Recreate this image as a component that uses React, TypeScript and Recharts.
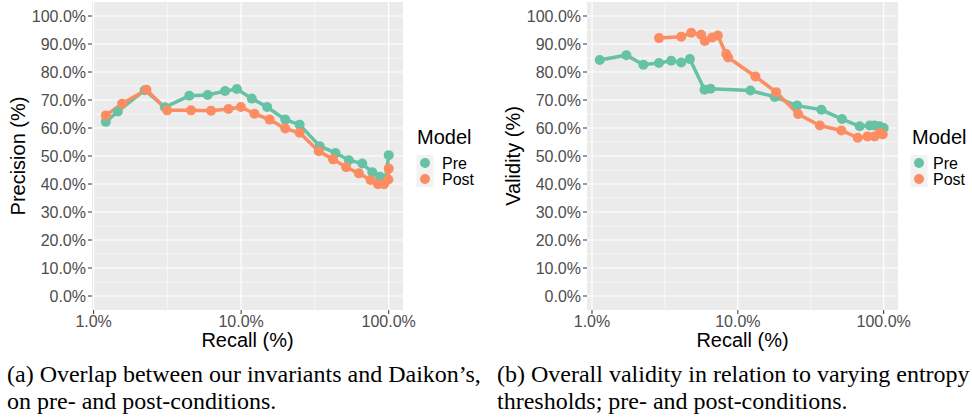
import React from "react";
import { CartesianGrid, Line, LineChart, XAxis, YAxis } from "recharts";

const TEAL = "#66C2A5";
const ORANGE = "#FC8D62";
const SANS = "'Liberation Sans', Arial, sans-serif";
const SERIF = "'Liberation Serif', 'Times New Roman', serif";

// (a) precision vs recall
const preRecallA = [1.21, 1.46, 2.22, 3.04, 4.45, 5.93, 7.78, 9.35, 11.8, 15.0, 19.9, 24.9, 34.1, 43.6, 53.7, 66.2, 77.4, 87.3, 95.0, 100];
const prePrecisionA = [62.2, 65.9, 73.5, 67.4, 71.5, 71.8, 73.2, 73.9, 70.5, 67.5, 63.0, 61.2, 53.5, 51.1, 48.5, 47.3, 44.2, 42.6, 41.5, 50.3];
const postRecallA = [1.21, 1.56, 2.28, 3.15, 4.57, 6.25, 8.2, 9.95, 12.3, 15.6, 19.9, 24.9, 33.6, 42.0, 51.5, 62.8, 75.4, 84.6, 93.0, 99.5, 100];
const postPrecisionA = [64.5, 68.7, 73.7, 66.3, 66.3, 66.2, 66.8, 67.5, 65.1, 63.0, 59.8, 58.3, 51.7, 48.8, 46.0, 43.8, 41.4, 39.9, 39.9, 41.6, 45.5];

// (b) validity vs recall
const preRecallB = [1.13, 1.72, 2.25, 2.88, 3.49, 4.09, 4.69, 5.91, 6.5, 12.2, 17.9, 25.5, 37.4, 51.8, 68.5, 80.2, 86.7, 94.0, 100];
const preValidityB = [84.3, 86.0, 82.6, 83.2, 84.0, 83.4, 84.6, 73.7, 74.0, 73.4, 71.1, 68.0, 66.5, 63.2, 60.6, 60.9, 60.9, 60.6, 60.0];
const postRecallB = [2.88, 4.09, 4.79, 5.6, 5.94, 6.67, 7.29, 8.32, 8.59, 13.2, 18.3, 25.9, 36.5, 51.3, 66.4, 77.6, 86.7, 94.0, 98.5];
const postValidityB = [92.1, 92.6, 94.0, 93.3, 91.1, 92.3, 93.0, 86.4, 85.2, 78.4, 72.8, 65.0, 60.9, 59.1, 56.5, 57.0, 57.0, 58.3, 57.7];

const xTicks = [1, 10, 100];
const xMinor = [3.162, 31.62];
const yTicks = [0, 10, 20, 30, 40, 50, 60, 70, 80, 90, 100];
const yMinor = [5, 15, 25, 35, 45, 55, 65, 75, 85, 95];
const seriesNames = ["Pre", "Post"];

const pairs = (xs: number[], ys: number[]) => xs.map((x, i) => ({ x, y: ys[i] }));
const pct = (v: number) => `${v.toFixed(1)}%`;

function Panel({
  left,
  pre,
  post,
  xDomain,
  yTitle,
  legendX,
  legendKeyX,
  legendTextX,
}: {
  left: number;
  pre: { x: number; y: number }[];
  post: { x: number; y: number }[];
  xDomain: [number, number];
  yTitle: string;
  legendX: number;
  legendKeyX: number;
  legendTextX: number;
}) {
  const tick = { fontSize: 16, fill: "#4D4D4D", fontFamily: SANS };
  return (
    <>
      <div style={{ position: "absolute", left, top: 0 }}>
        <LineChart width={425} height={350} margin={{ top: 2, right: 22, bottom: 0, left: 0 }}>
          <CartesianGrid
            fill="#EBEBEB"
            stroke="#FFFFFF"
            strokeWidth={0.6}
            horizontalValues={yMinor}
            verticalValues={xMinor}
          />
          <CartesianGrid stroke="#FFFFFF" strokeWidth={1.2} horizontalValues={yTicks} verticalValues={xTicks} />
          <XAxis
            dataKey="x"
            type="number"
            scale="log"
            domain={xDomain}
            allowDataOverflow
            ticks={xTicks}
            tickFormatter={pct}
            tick={tick}
            tickSize={4}
            tickLine={{ stroke: "#333333" }}
            axisLine={false}
            height={40}
          />
          <YAxis
            type="number"
            domain={[-5, 105]}
            allowDataOverflow
            ticks={yTicks}
            tickFormatter={pct}
            tick={tick}
            tickSize={4}
            tickLine={{ stroke: "#333333" }}
            axisLine={false}
            width={92}
          />
          <Line
            data={pre}
            dataKey="y"
            type="linear"
            stroke={TEAL}
            strokeWidth={3.5}
            dot={{ r: 5, fill: TEAL, stroke: TEAL, strokeWidth: 0 }}
            isAnimationActive={false}
          />
          <Line
            data={post}
            dataKey="y"
            type="linear"
            stroke={ORANGE}
            strokeWidth={3.5}
            dot={{ r: 5, fill: ORANGE, stroke: ORANGE, strokeWidth: 0 }}
            isAnimationActive={false}
          />
        </LineChart>
      </div>
      <div
        style={{
          position: "absolute",
          left: left + 92,
          width: 311,
          top: 330,
          textAlign: "center",
          fontFamily: SANS,
          fontSize: 20,
          lineHeight: "20px",
          color: "#000",
        }}
      >
        Recall (%)
      </div>
      <div
        style={{
          position: "absolute",
          left: left + 18,
          top: 156,
          transform: "translate(-50%, -50%) rotate(-90deg)",
          whiteSpace: "nowrap",
          fontFamily: SANS,
          fontSize: 20,
          lineHeight: "20px",
          color: "#000",
        }}
      >
        {yTitle}
      </div>
      <svg style={{ position: "absolute", left: 0, top: 0 }} width={972} height={417}>
        <text x={legendX} y={143.5} fontFamily={SANS} fontSize={20} fill="#000">
          Model
        </text>
        {seriesNames.map((name, i) => (
          <g key={name}>
            <rect x={legendKeyX - 8.5} y={155 + i * 16} width={17} height={16} fill="#F2F2F2" />
            <circle cx={legendKeyX} cy={163 + i * 16} r={5} fill={i === 0 ? TEAL : ORANGE} />
            <text x={legendTextX} y={163 + i * 16} dy="0.36em" fontFamily={SANS} fontSize={16} fill="#000">
              {name}
            </text>
          </g>
        ))}
      </svg>
    </>
  );
}

const captionStyle: React.CSSProperties = {
  position: "absolute",
  top: 361,
  fontFamily: SERIF,
  fontSize: 24,
  lineHeight: "27px",
  color: "#000",
  whiteSpace: "nowrap",
};

export default function App() {
  return (
    <div
      style={{
        position: "absolute",
        left: 0,
        top: 0,
        width: 972,
        height: 417,
        overflow: "hidden",
        background: "#fff",
      }}
    >
      <Panel
        left={0}
        pre={pairs(preRecallA, prePrecisionA)}
        post={pairs(postRecallA, postPrecisionA)}
        xDomain={[0.975, 125]}
        yTitle="Precision (%)"
        legendX={417}
        legendKeyX={425}
        legendTextX={442}
      />
      <Panel
        left={495}
        pre={pairs(preRecallB, preValidityB)}
        post={pairs(postRecallB, postValidityB)}
        xDomain={[0.924, 125.4]}
        yTitle="Validity (%)"
        legendX={912}
        legendKeyX={919}
        legendTextX={933}
      />
      <div style={{ ...captionStyle, left: 7 }}>
        (a) Overlap between our invariants and Daikon’s,
        <br />
        on pre- and post-conditions.
      </div>
      <div style={{ ...captionStyle, left: 497 }}>
        (b) Overall validity in relation to varying entropy
        <br />
        thresholds; pre- and post-conditions.
      </div>
    </div>
  );
}
